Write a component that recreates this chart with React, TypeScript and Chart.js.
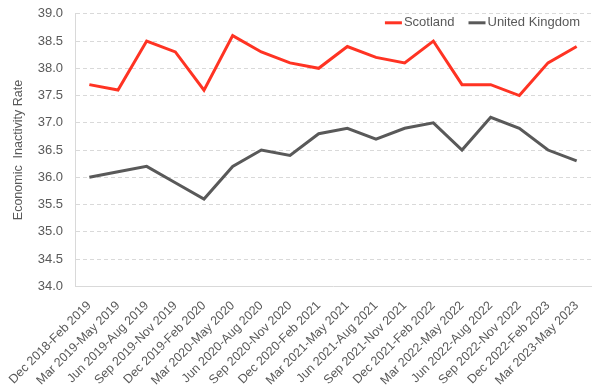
import React, { useEffect, useRef } from "react";
import { Chart, registerables } from "chart.js";

Chart.register(...registerables);

const categories = [
  "Dec 2018-Feb 2019",
  "Mar 2019-May 2019",
  "Jun 2019-Aug 2019",
  "Sep 2019-Nov 2019",
  "Dec 2019-Feb 2020",
  "Mar 2020-May 2020",
  "Jun 2020-Aug 2020",
  "Sep 2020-Nov 2020",
  "Dec 2020-Feb 2021",
  "Mar 2021-May 2021",
  "Jun 2021-Aug 2021",
  "Sep 2021-Nov 2021",
  "Dec 2021-Feb 2022",
  "Mar 2022-May 2022",
  "Jun 2022-Aug 2022",
  "Sep 2022-Nov 2022",
  "Dec 2022-Feb 2023",
  "Mar 2023-May 2023",
];

const scotland = [37.7, 37.6, 38.5, 38.3, 37.6, 38.6, 38.3, 38.1, 38.0, 38.4, 38.2, 38.1, 38.5, 37.7, 37.7, 37.5, 38.1, 38.4];
const unitedKingdom = [36.0, 36.1, 36.2, 35.9, 35.6, 36.2, 36.5, 36.4, 36.8, 36.9, 36.7, 36.9, 37.0, 36.5, 37.1, 36.9, 36.5, 36.3];

const yMin = 34;
const yMax = 39;
const yStep = 0.5;

const FONT = "'Liberation Sans', Arial, sans-serif";
const TEXT = "#595959";

const insideLegend = {
  id: "insideLegend",
  afterDraw(chart: any) {
    const { ctx, chartArea, data } = chart;
    ctx.save();
    ctx.font = `13px ${FONT}`;
    ctx.textBaseline = "middle";
    const lineLen = 17;
    const gap = 2;
    const itemGap = 14;
    const items = data.datasets.map((ds: any) => ({
      label: ds.label,
      color: ds.borderColor,
      w: lineLen + gap + ctx.measureText(ds.label).width,
    }));
    const total = items.reduce((s: number, it: any) => s + it.w, 0) + itemGap * (items.length - 1);
    let x = chartArea.right - 11 - total;
    const y = chartArea.top + 9;
    for (const it of items) {
      ctx.strokeStyle = it.color;
      ctx.lineWidth = 3;
      ctx.beginPath();
      ctx.moveTo(x, y);
      ctx.lineTo(x + lineLen, y);
      ctx.stroke();
      ctx.fillStyle = TEXT;
      ctx.textAlign = "left";
      ctx.fillText(it.label, x + lineLen + gap, y);
      x += it.w + itemGap;
    }
    ctx.restore();
  },
};

export default function App() {
  const ref = useRef<HTMLCanvasElement | null>(null);

  useEffect(() => {
    document.body.style.margin = "0";
    if (!ref.current) return;
    const chart = new Chart(ref.current, {
      type: "line",
      data: {
        labels: categories,
        datasets: [
          {
            label: "Scotland",
            data: scotland,
            borderColor: "#FF3323",
            backgroundColor: "#FF3323",
            borderWidth: 3,
            pointRadius: 0,
            tension: 0,
          },
          {
            label: "United Kingdom",
            data: unitedKingdom,
            borderColor: "#595959",
            backgroundColor: "#595959",
            borderWidth: 3,
            pointRadius: 0,
            tension: 0,
          },
        ],
      },
      plugins: [insideLegend],
      options: {
        responsive: false,
        animation: false,
        layout: { padding: { top: 0, right: 9, left: 11, bottom: 0 } },
        plugins: {
          legend: { display: false },
          tooltip: { enabled: false },
        },
        scales: {
          x: {
            offset: true,
            grid: { display: false },
            border: { display: true, color: "#d9d9d9", width: 1 },
            ticks: {
              color: TEXT,
              font: { family: FONT, size: 12.5 },
              minRotation: 45,
              maxRotation: 45,
              autoSkip: false,
              padding: 4,
            },
          },
          y: {
            min: yMin,
            max: yMax,
            afterFit: (scale: any) => {
              scale.width = 64;
            },
            grid: { color: "#d9d9d9", drawTicks: true, tickLength: 6, tickColor: "rgba(0,0,0,0)" },
            border: { display: true, color: "#d9d9d9", width: 1, dash: [4, 3] },
            ticks: {
              stepSize: yStep,
              color: TEXT,
              font: { family: FONT, size: 13 },
              padding: 6,
              callback: (v: any) => Number(v).toFixed(1),
            },
            title: {
              display: true,
              text: "Economic  Inactivity Rate",
              color: TEXT,
              font: { family: FONT, size: 12.5 },
              padding: { top: 0, bottom: 0 },
            },
          },
        },
      },
    });
    return () => chart.destroy();
  }, []);

  return <canvas ref={ref} width={600} height={392} />;
}
